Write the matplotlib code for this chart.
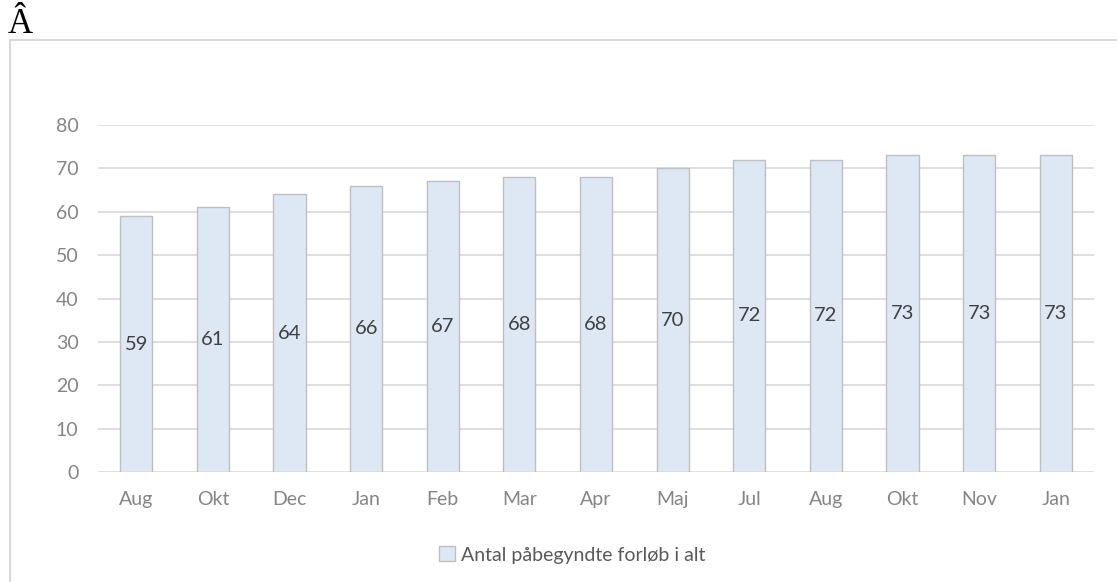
import matplotlib.pyplot as plt
from matplotlib.lines import Line2D
from matplotlib.patches import Patch

months = ['Aug', 'Okt', 'Dec', 'Jan', 'Feb', 'Mar', 'Apr', 'Maj', 'Jul', 'Aug', 'Okt', 'Nov', 'Jan']
values = [59, 61, 64, 66, 67, 68, 68, 70, 72, 72, 73, 73, 73]
series_name = 'Antal påbegyndte forløb i alt'

plt.rcParams['font.family'] = ['Lato', 'DejaVu Sans']

fig = plt.figure(figsize=(11.17, 5.82), dpi=100)

# frame around the chart (top and left edges only visible)
fig.add_artist(Line2D([10 / 1117, 10 / 1117], [0, 1 - 40 / 582], transform=fig.transFigure,
                      color='#d9d9d9', lw=1.5))
fig.add_artist(Line2D([10 / 1117, 1], [1 - 40 / 582, 1 - 40 / 582], transform=fig.transFigure,
                      color='#d9d9d9', lw=1.5))
fig.text(8 / 1117, 1 - 33 / 582, 'Â', family='Liberation Serif', fontsize=25, color='black',
         va='baseline')

ax = fig.add_axes([98 / 1117, 1 - 472 / 582, (1094 - 98) / 1117, (472 - 125) / 582])
x = list(range(len(months)))
bars = ax.bar(x, values, width=0.42, color='#dee8f5', edgecolor='#bfbfbf', linewidth=1, zorder=3)

for xi, v in zip(x, values):
    ax.text(xi, v / 2, str(v), ha='center', va='center', fontsize=14.5, color='#404040', zorder=4)

ax.set_xlim(-0.5, len(months) - 0.5)
ax.set_ylim(0, 80)
ax.set_yticks(range(0, 81, 10))
ax.set_xticks(x)
ax.set_xticklabels(months)
ax.grid(axis='y', color='#d9d9d9', lw=1.2, zorder=0)
for s in ax.spines.values():
    s.set_visible(False)
ax.tick_params(axis='both', length=0, colors='#858585', labelsize=14)
ax.tick_params(axis='y', pad=14)
ax.tick_params(axis='x', pad=14)

fig.legend(handles=[Patch(facecolor='#dee8f5', edgecolor='#bfbfbf', label=series_name)],
           loc='center', bbox_to_anchor=(572 / 1117, 1 - 555 / 582), frameon=False,
           fontsize=14, labelcolor='#595959', handlelength=0.8, handleheight=0.8,
           handletextpad=0.3)

fig.savefig('out.png', dpi=100)
